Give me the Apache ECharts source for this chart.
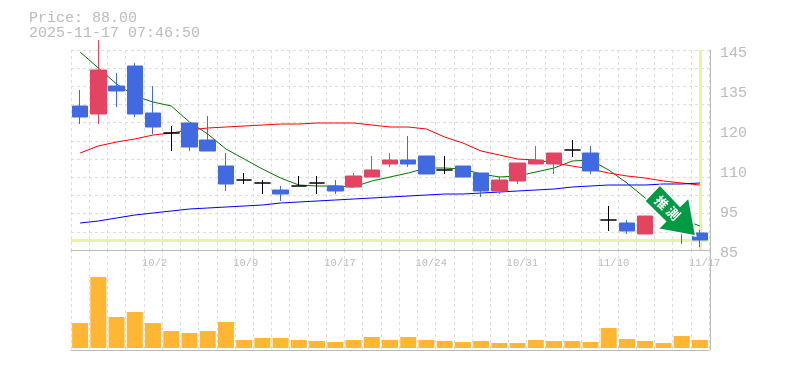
<!DOCTYPE html>
<html><head><meta charset="utf-8">
<style>html,body{margin:0;padding:0;background:#fff}#c{width:785px;height:370px}</style>
<script src="https://cdn.jsdelivr.net/npm/echarts@6/dist/echarts.min.js"></script>
</head><body><div id="c"></div>
<script>
const lastPrice = 88.00;
const timestamp = '2025-11-17 07:46:50';
const categories = ['9/26','9/29','9/30','10/1','10/2','10/3','10/6','10/7','10/8','10/9','10/10','10/14','10/15','10/16','10/17','10/20','10/21','10/22','10/23','10/24','10/27','10/28','10/29','10/30','10/31','11/4','11/5','11/6','11/7','11/10','11/11','11/12','11/13','11/14','11/17'];
const opens  = [128.2,125.8,134.2,140.2,126.1,120.1,123.1,118,110.2,106,105.1,103,104.2,105.1,104.2,103.9,106.9,110.8,112,113.2,109,110.2,108.1,102.7,105.7,110.8,110.8,115,114.1,94,93.1,89.8,100,92.5,90.1];
const closes = [124.9,139,132.7,125.8,121.9,120.1,115.9,114.7,104.8,106,105.1,101.8,104.2,105.1,102.7,107.2,109,112,110.8,107.8,109,106.9,102.7,106,111.1,112,114.1,115,108.7,94,90.7,95.2,98,90.4,88];
const lows   = [122.8,122.8,127.9,124.9,119.8,114.7,114.7,114.7,102.7,104.8,101.8,99.7,104.2,101.8,101.8,103.9,106.9,109.9,109.9,107.8,107.8,106.9,100.9,101.8,104.8,110.8,107.8,112.9,107.8,90.7,89.8,89.8,98,86.8,85.9];
const highs  = [133,148,138.1,141.1,134.2,122.2,123.1,125.2,114.1,108.1,106,104.2,107.2,107.2,106,108.1,113.2,114.1,119.2,113.2,113.2,110.2,108.1,107.2,111.1,116.2,114.1,118,116.2,98.2,94,95.2,100,92.5,91];
const maShort = [144.4,139.6,134.8,131.2,129.4,128.2,123.4,119.8,115.3,112.3,109.3,106.6,104.5,104.2,104.2,103.9,105.7,106.9,108.1,109.6,109.6,109.3,107.8,106.9,107.2,108.4,109.6,111.7,112,109,105.1,100.6,97.3,94.3,92.2];
const maMid = [114.1,116.2,117.4,118.3,119.5,120.1,121,121.6,121.9,122.2,122.5,122.8,122.8,123.1,123.1,123.1,122.5,121.9,121.9,121.3,118.9,117.1,114.7,113.5,112.3,112,111.1,110.2,109.3,108.1,107.2,106.6,105.7,105.1,104.5];
const maLong = [93.1,93.7,94.6,95.5,96.1,96.7,97.3,97.6,97.9,98.2,98.5,99.1,99.4,99.7,100,100.3,100.6,100.9,101.2,101.5,101.8,101.8,102.1,102.4,102.7,103,103.3,103.9,104.2,104.5,104.5,104.5,104.8,104.8,105.1];
const volumes = [25,71,31,36,25,17,15,17,26,8,10,10,8,7,6,8,11,8,11,8,7,6,7,5,5,8,7,7,6,20,9,7,5,12,8];
const priceTickLabels = ['85','95','110','120','135','145'];
const arrowText = ['推','測'];

const ohlc = categories.map((c,i)=>[opens[i],closes[i],lows[i],highs[i]]);
const gridLine = {show:true,lineStyle:{color:'#ddd',type:[3,3],width:1}};
const frame = {show:true,onZero:false,lineStyle:{color:'#bbb',width:1}};
const mono = '"Liberation Mono", monospace';
const L = 71, W = 638;

const chart = echarts.init(document.getElementById('c'),null,{renderer:'canvas'});
chart.setOption({
  animation:false,
  backgroundColor:'#fff',
  title:{left:29,top:11,padding:0,text:'Price: '+lastPrice.toFixed(2)+'\n'+timestamp,
    textStyle:{fontFamily:mono,fontSize:15,fontWeight:'normal',color:'#bbb',lineHeight:15}},
  grid:[
    {left:L,width:W,top:50,height:200},
    {left:L,width:W,top:250,height:100},
    {left:L,width:W,top:53,height:200}
  ],
  xAxis:[
    {type:'category',gridIndex:0,data:categories,boundaryGap:true,axisLine:frame,axisTick:{show:false},
     splitLine:Object.assign({interval:0},gridLine),
     axisLabel:{show:true,interval:(i)=>(i+1)%5===0,align:'left',margin:8,padding:[0,0,0,-11],
       fontFamily:mono,fontSize:10.5,color:'#bbb',hideOverlap:false}},
    {type:'category',gridIndex:1,data:categories,boundaryGap:true,axisLine:frame,axisTick:{show:false},
     axisLabel:{show:false},splitLine:Object.assign({interval:0},gridLine)},
    {type:'category',gridIndex:2,data:categories,show:false}
  ],
  yAxis:[
    {type:'value',gridIndex:0,min:85,max:145,position:'right',offset:1,axisLine:frame,axisTick:{show:false},axisLabel:{show:false},splitLine:{show:false}},
    {type:'value',gridIndex:0,min:0,max:11,interval:1,position:'left',axisLine:{show:false},axisTick:{show:false},axisLabel:{show:false},splitLine:gridLine},
    {type:'value',gridIndex:1,min:-2,max:98,position:'right',offset:1,axisLine:frame,axisTick:{show:false},axisLabel:{show:false},splitLine:{show:false}},
    {type:'value',gridIndex:2,min:0,max:5,interval:1,position:'right',axisLine:{show:false},axisTick:{show:false},splitLine:{show:false},
     axisLabel:{margin:11,fontFamily:mono,fontSize:15,color:'#bbb',formatter:(v)=>priceTickLabels[v]}}
  ],
  series:[
    {type:'line',xAxisIndex:0,yAxisIndex:0,data:[],z:1,silent:true,
     markLine:{silent:true,z:1,symbol:'none',animation:false,label:{show:false},
       lineStyle:{color:'#e4f5a6',width:3,type:'solid'},
       data:[{yAxis:lastPrice},{xAxis:categories[categories.length-1]}]}},
    {type:'line',name:'short',xAxisIndex:0,yAxisIndex:0,data:maShort,showSymbol:false,z:3,lineStyle:{color:'#007700',width:1}},
    {type:'line',name:'mid',xAxisIndex:0,yAxisIndex:0,data:maMid,showSymbol:false,z:3,lineStyle:{color:'#ff0000',width:1}},
    {type:'line',name:'long',xAxisIndex:0,yAxisIndex:0,data:maLong,showSymbol:false,z:3,lineStyle:{color:'#0000ff',width:1}},
    {type:'candlestick',xAxisIndex:0,yAxisIndex:0,data:ohlc,barWidth:16,z:4,clip:true,
     itemStyle:{color:'#e34462',color0:'#4169e1',borderColor:'#e34462',borderColor0:'#4169e1',borderColorDoji:'#000',borderWidth:1}},
    {type:'bar',xAxisIndex:1,yAxisIndex:2,data:volumes,barWidth:16,z:2,itemStyle:{color:'#ffb733'}},
    {type:'line',xAxisIndex:2,yAxisIndex:3,data:[],silent:true}
  ],
  graphic:[
    {type:'polygon',z:100,shape:{points:[[660,185],[680,206.3],[688.7,197.7],[695.8,236],[658,229],[665.5,221.5],[644.7,201]]},
     style:{fill:'#009944',stroke:'#fff',lineWidth:1.5}},
    {type:'text',z:101,x:661.7,y:202.7,rotation:-Math.PI/4,
     style:{text:arrowText[0],fill:'#fff',font:'bold 13px "Noto Sans CJK JP"',align:'center',verticalAlign:'middle'}},
    {type:'text',z:101,x:673.3,y:213.3,rotation:-Math.PI/4,
     style:{text:arrowText[1],fill:'#fff',font:'bold 13px "Noto Sans CJK JP"',align:'center',verticalAlign:'middle'}}
  ]
});
</script></body></html>
